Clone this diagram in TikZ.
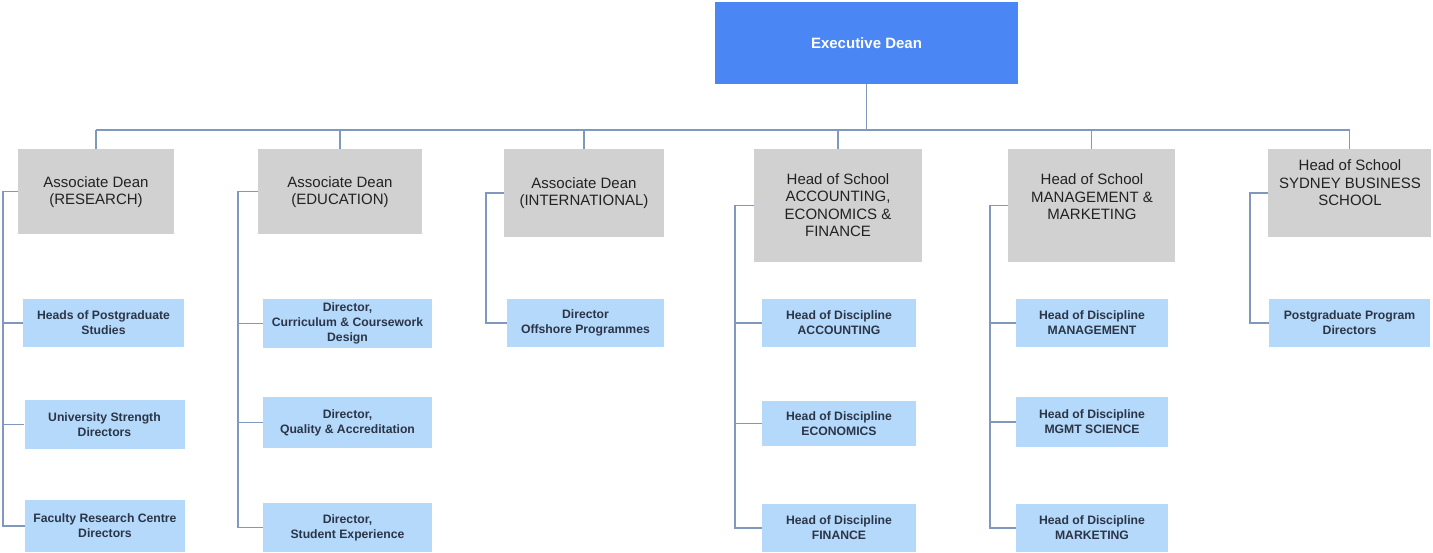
\documentclass[tikz,border=0pt]{standalone}
\usepackage{fontspec}
\setmainfont{Liberation Sans}
\definecolor{execblue}{HTML}{4A86F4}
\definecolor{graybox}{HTML}{D1D1D1}
\definecolor{lightblue}{HTML}{B5D9FA}
\definecolor{connc}{HTML}{8198BE}
\definecolor{gtext}{HTML}{222222}
\definecolor{btext}{HTML}{2B3548}
\newcommand\gtxtfont{\fontsize{15}{17.5}\selectfont}
\newcommand\btxtfont{\fontsize{12.2}{15}\selectfont\bfseries}
\tikzset{
  execbox/.style={fill=execblue, inner sep=0pt, text=white, font=\fontsize{15}{18}\selectfont\bfseries},
  headbox/.style={fill=graybox, inner sep=0pt},
  headtext/.style={text=gtext, align=center, font=\gtxtfont, inner sep=0pt},
  subbox/.style={fill=lightblue, inner sep=0pt, text=btext, align=center, font=\btxtfont},
  conn/.style={draw=connc, line width=1.5pt}
}
\begin{document}
\begin{tikzpicture}[x=1pt,y=-1pt]
\useasboundingbox[fill=white] (0,0) rectangle (1433,552);
% top
\node[execbox, minimum width=303pt, minimum height=82pt] (X) at (866.5,43) {Executive Dean};
% heads
\node[headbox, minimum width=156pt, minimum height=85pt] (R) at (96,191.5) {};
\node[headbox, minimum width=164pt, minimum height=85pt] (E) at (340,191.5) {};
\node[headbox, minimum width=160pt, minimum height=88pt] (I) at (584,193) {};
\node[headbox, minimum width=168pt, minimum height=113pt] (A) at (838,205.5) {};
\node[headbox, minimum width=167pt, minimum height=113pt] (M) at (1091.5,205.5) {};
\node[headbox, minimum width=163pt, minimum height=88pt] (S) at (1349.5,193) {};
\node[headtext] (Rt) at (96,192) {Associate Dean\\(RESEARCH)};
\node[headtext] (Et) at (340,192) {Associate Dean\\(EDUCATION)};
\node[headtext] (It) at (584,193) {Associate Dean\\(INTERNATIONAL)};
\node[headtext] (At) at (838,205) {Head of School\\ACCOUNTING,\\ECONOMICS \&\\FINANCE};
\node[headtext] (Mt) at (1092,197) {Head of School\\MANAGEMENT \&\\MARKETING};
\node[headtext] (St) at (1350,183) {Head of School\\SYDNEY BUSINESS\\SCHOOL};
% sub boxes
\node[subbox, minimum width=161pt, minimum height=48pt] (r1) at (103.5,323) {Heads of Postgraduate\\Studies};
\node[subbox, minimum width=160pt, minimum height=49pt] (r2) at (104.5,424.5) {University Strength\\Directors};
\node[subbox, minimum width=160pt, minimum height=52pt] (r3) at (105,526) {Faculty Research Centre\\Directors};
\node[subbox, minimum width=169pt, minimum height=49pt] (e1) at (347.5,323.5) {Director,\\Curriculum \& Coursework\\Design};
\node[subbox, minimum width=169pt, minimum height=51pt] (e2) at (347.5,422.5) {Director,\\Quality \& Accreditation};
\node[subbox, minimum width=169pt, minimum height=49pt] (e3) at (347.5,527.5) {Director,\\Student Experience};
\node[subbox, minimum width=157pt, minimum height=48pt] (i1) at (585.5,323) {Director\\Offshore Programmes};
\node[subbox, minimum width=154pt, minimum height=48pt] (a1) at (839,323) {Head of Discipline\\ACCOUNTING};
\node[subbox, minimum width=154pt, minimum height=45pt] (a2) at (839,423.5) {Head of Discipline\\ECONOMICS};
\node[subbox, minimum width=154pt, minimum height=48pt] (a3) at (839,528) {Head of Discipline\\FINANCE};
\node[subbox, minimum width=152pt, minimum height=48pt] (m1) at (1092,323) {Head of Discipline\\MANAGEMENT};
\node[subbox, minimum width=152pt, minimum height=50pt] (m2) at (1092,422) {Head of Discipline\\MGMT SCIENCE};
\node[subbox, minimum width=152pt, minimum height=48pt] (m3) at (1092,528) {Head of Discipline\\MARKETING};
\node[subbox, minimum width=161pt, minimum height=48pt] (s1) at (1349.5,323) {Postgraduate Program\\Directors};
% top connectors
\coordinate (bus) at (0,130);
\draw[conn] (X.south) -- (X.south |- bus);
\draw[conn] (R.north |- bus) -- (S.north |- bus);
\foreach \n in {R,E,I,A,M,S} { \draw[conn] (\n.north |- bus) -- (\n.north); }
% left connectors
\coordinate (Rx) at (3,0);
\coordinate (Ex) at (238,0);
\coordinate (Ix) at (486,0);
\coordinate (Ax) at (735,0);
\coordinate (Mx) at (990,0);
\coordinate (Sx) at (1250,0);
\draw[conn] (R.west) -| (Rx |- r3.west) -- (r3.west);
\draw[conn] (Rx |- r1.west) -- (r1.west);
\draw[conn] (Rx |- r2.west) -- (r2.west);
\draw[conn] (E.west) -| (Ex |- e3.west) -- (e3.west);
\draw[conn] (Ex |- e1.west) -- (e1.west);
\draw[conn] (Ex |- e2.west) -- (e2.west);
\draw[conn] (I.west) -| (Ix |- i1.west) -- (i1.west);
\draw[conn] (A.west) -| (Ax |- a3.west) -- (a3.west);
\draw[conn] (Ax |- a1.west) -- (a1.west);
\draw[conn] (Ax |- a2.west) -- (a2.west);
\draw[conn] (M.west) -| (Mx |- m3.west) -- (m3.west);
\draw[conn] (Mx |- m1.west) -- (m1.west);
\draw[conn] (Mx |- m2.west) -- (m2.west);
\draw[conn] (S.west) -| (Sx |- s1.west) -- (s1.west);
\end{tikzpicture}
\end{document}
